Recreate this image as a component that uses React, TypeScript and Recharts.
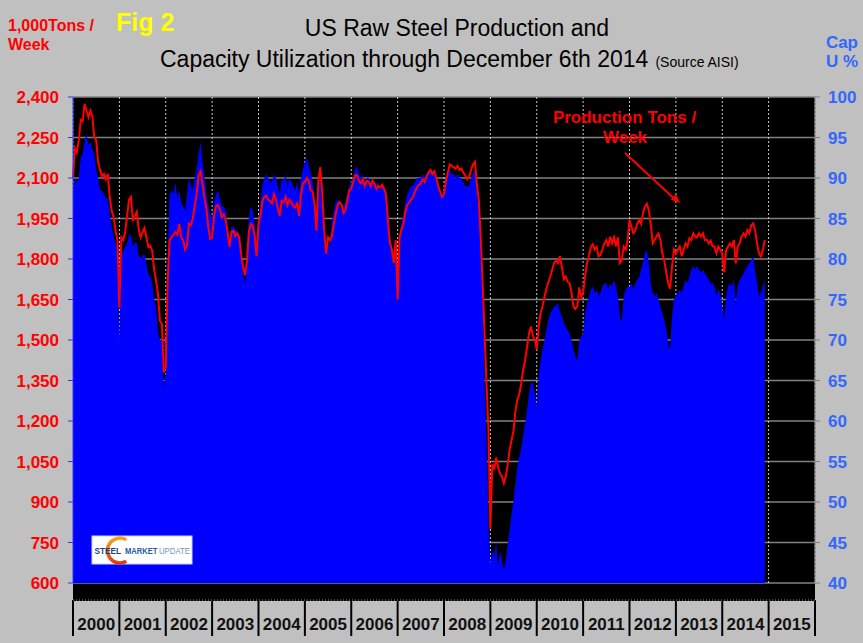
import { ComposedChart, Area, Line, XAxis, YAxis, CartesianGrid } from "recharts";

// Semi-monthly readings (24 per year), production in 1,000 tons/week and capacity utilization in %.
const YEARS = [2000, 2001, 2002, 2003, 2004, 2005, 2006, 2007, 2008, 2009, 2010, 2011, 2012, 2013, 2014];

const prod2000 = [2100, 2210, 2195, 2240, 2315, 2310, 2375, 2350, 2325, 2350, 2330, 2250, 2240, 2160, 2130, 2105, 2115, 2095, 2115, 2030, 1980, 1955, 1905, 1870];
const prod2001 = [1620, 1880, 1870, 1900, 1960, 2020, 2030, 1940, 1960, 1975, 1910, 1880, 1900, 1915, 1880, 1845, 1850, 1830, 1760, 1720, 1670, 1570, 1560, 1380];
const prod2002 = [1400, 1720, 1870, 1880, 1890, 1900, 1890, 1930, 1880, 1870, 1835, 1850, 1930, 1925, 1950, 1995, 2040, 2110, 2125, 2080, 2030, 1990, 1920, 1875];
const prod2003 = [1880, 1960, 1995, 2000, 1985, 1955, 1965, 1945, 1900, 1845, 1900, 1905, 1885, 1895, 1880, 1820, 1770, 1740, 1790, 1900, 1930, 1925, 1885, 1810];
const prod2004 = [1930, 1960, 2015, 2030, 2035, 2020, 2015, 2005, 2040, 2020, 1990, 1960, 2015, 2010, 2030, 2000, 2020, 2010, 1995, 1990, 2010, 1960, 2040, 2080];
const prod2005 = [2085, 2100, 2090, 2055, 2050, 2005, 1905, 2090, 2140, 2045, 1905, 1820, 1880, 1870, 1885, 1930, 1970, 2000, 2010, 2000, 1970, 1980, 2020, 2055];
const prod2006 = [2060, 2085, 2110, 2110, 2090, 2080, 2095, 2070, 2090, 2085, 2070, 2090, 2080, 2060, 2070, 2065, 2075, 2060, 2040, 1940, 1860, 1835, 1785, 1870];
const prod2007 = [1650, 1880, 1910, 1930, 1975, 2000, 2010, 2020, 2030, 2050, 2065, 2075, 2080, 2095, 2085, 2105, 2120, 2130, 2115, 2125, 2100, 2070, 2050, 2030];
const prod2008 = [2040, 2090, 2120, 2150, 2145, 2140, 2135, 2145, 2130, 2135, 2120, 2110, 2095, 2105, 2130, 2150, 2160, 2080, 2020, 1880, 1710, 1525, 1340, 1170];
const prod2009 = [800, 1040, 1020, 1065, 1030, 1005, 995, 970, 995, 1040, 1095, 1130, 1165, 1240, 1280, 1300, 1340, 1390, 1425, 1475, 1525, 1550, 1515, 1500];
const prod2010 = [1465, 1550, 1600, 1625, 1660, 1690, 1715, 1735, 1760, 1785, 1795, 1785, 1810, 1770, 1725, 1735, 1715, 1710, 1675, 1625, 1615, 1625, 1695, 1660];
const prod2011 = [1675, 1735, 1785, 1810, 1845, 1855, 1835, 1845, 1810, 1815, 1835, 1858, 1870, 1846, 1883, 1858, 1880, 1846, 1880, 1785, 1795, 1846, 1834, 1870];
const prod2012 = [1945, 1920, 1895, 1905, 1930, 1945, 1930, 1970, 1995, 2005, 1980, 1930, 1858, 1870, 1885, 1895, 1870, 1820, 1795, 1750, 1710, 1690, 1770, 1835];
const prod2013 = [1820, 1833, 1846, 1810, 1835, 1858, 1846, 1877, 1870, 1895, 1883, 1880, 1895, 1883, 1895, 1870, 1872, 1858, 1868, 1846, 1846, 1821, 1846, 1833];
const prod2014 = [1821, 1750, 1833, 1846, 1858, 1846, 1870, 1784, 1846, 1858, 1883, 1895, 1883, 1907, 1895, 1926, 1932, 1907, 1858, 1821, 1809, 1833, 1870];

const cap2000 = [88.5, 90, 89.5, 90, 92.5, 93, 94.5, 95.5, 94, 94.5, 93.5, 93, 91, 90, 88.5, 88.5, 88, 87.5, 87.5, 85.5, 84, 83, 82, 81];
const cap2001 = [70, 80.5, 81, 81.5, 82, 83, 83, 81.5, 82, 82, 80.5, 80, 80.5, 80.5, 79.5, 78, 78, 77, 75, 74, 71, 70, 70, 64];
const cap2002 = [66, 80, 88, 88.5, 88, 89.5, 87.5, 88.5, 87, 86.5, 86, 88, 90, 89, 88.5, 90, 91, 93, 94.5, 92, 90, 88, 86.5, 85.5];
const cap2003 = [85, 87, 88, 88.5, 87.5, 86.5, 86.5, 86, 84, 82, 84, 84, 83.5, 83.5, 83, 81, 78, 77, 80, 85, 86.5, 86, 84.5, 81];
const cap2004 = [85, 87, 89, 90, 90.5, 90, 89.5, 89.5, 90.5, 90, 89, 88, 90, 89.5, 90.5, 89, 90, 89.5, 89, 88.5, 89.5, 88, 90, 91];
const cap2005 = [92, 92.5, 91.5, 90.5, 89.5, 87.5, 85, 89, 90, 86.5, 82, 82, 81.5, 82, 84.5, 86, 87, 87.5, 86.5, 86, 86.5, 87, 88, 89];
const cap2006 = [89.5, 90, 91, 91.5, 90.5, 90, 90.5, 89.5, 90, 90, 89.5, 89.5, 89.5, 89, 89.5, 88.5, 89, 88.5, 88, 86, 83, 81.5, 80, 82];
const cap2007 = [75, 83, 84.5, 85.5, 87, 88, 88.5, 89, 89, 89.5, 90, 90, 90, 90.5, 90, 90.5, 91, 91, 90.5, 90.5, 90, 89, 88, 87.5];
const cap2008 = [88.5, 89.5, 90.5, 91, 90.5, 90.5, 90, 90.5, 90, 90, 89.5, 89, 89, 89, 90, 90.5, 91, 88.5, 86, 82, 75, 65, 57.5, 47];
const cap2009 = [42.4, 44.1, 43.3, 44.9, 42, 44, 42.8, 41.6, 42.8, 44.9, 46.5, 48.6, 50.2, 52.3, 54.4, 55.6, 56.8, 58.1, 59.7, 61.4, 63.4, 64.7, 64.7, 63.4];
const cap2010 = [61.8, 65.5, 67.5, 68.8, 70, 71.2, 72.5, 73.3, 73.7, 74.1, 74.3, 74.5, 73.5, 72.9, 72.1, 71.6, 71.2, 70.8, 70, 68.8, 68, 67.5, 70, 70.4];
const cap2011 = [70.8, 73.3, 74.5, 75.3, 76.2, 76.6, 75.8, 76.2, 75.4, 75.8, 76.6, 77, 77, 76.2, 77, 76.6, 77.4, 76.6, 75.4, 72.9, 72.1, 75.4, 76.2, 76.6];
const cap2012 = [76.6, 77, 76.2, 77, 77.4, 77.8, 78.7, 79.5, 80.7, 81.1, 79.5, 77, 75.8, 75.4, 75.8, 75, 74.1, 73.3, 72.5, 71.3, 69.6, 68.8, 72.9, 75];
const cap2013 = [75.4, 75.8, 76.2, 75.8, 76.6, 77.4, 77, 77.8, 78.7, 79.1, 78.7, 79.1, 78.7, 78.2, 78.7, 78.2, 77.8, 77.4, 77, 77, 76.6, 75.4, 76.2, 75.8];
const cap2014 = [74.1, 72.5, 75.4, 76.6, 77, 76.6, 77.4, 74.5, 76.6, 77.4, 77.8, 78.2, 78.7, 79.1, 79.5, 79.9, 80.3, 78.7, 77, 75.4, 75.8, 76.6, 77.4];

const PROD = [prod2000, prod2001, prod2002, prod2003, prod2004, prod2005, prod2006, prod2007, prod2008, prod2009, prod2010, prod2011, prod2012, prod2013, prod2014];
const CAP = [cap2000, cap2001, cap2002, cap2003, cap2004, cap2005, cap2006, cap2007, cap2008, cap2009, cap2010, cap2011, cap2012, cap2013, cap2014];

const YEAR_TICKS = [2000, 2001, 2002, 2003, 2004, 2005, 2006, 2007, 2008, 2009, 2010, 2011, 2012, 2013, 2014, 2015, 2016];
const TON_TICKS = [600, 750, 900, 1050, 1200, 1350, 1500, 1650, 1800, 1950, 2100, 2250, 2400];
const CAP_TICKS = [40, 45, 50, 55, 60, 65, 70, 75, 80, 85, 90, 95, 100];

const data = YEARS.flatMap((yr, k) =>
  PROD[k].map((p, i) => ({ t: yr + i / 24, prod: p, cap: CAP[k][i] }))
);

const FONT = '"Liberation Sans", Arial, Helvetica, sans-serif';

function YearTick({ x, y, payload }: any) {
  const yr = payload.value;
  return (
    <g>
      <line x1={x} x2={x} y1={y + 17} y2={y + 53} stroke="#000" strokeWidth={2} />
      {yr < 2016 && (
        <text x={x + 23.2} y={y + 47} textAnchor="middle" fontSize={17} fontWeight="bold" fill="#111">
          {yr}
        </text>
      )}
    </g>
  );
}

export default function App() {
  return (
    <div style={{ position: "absolute", left: 0, top: 0, width: 863, height: 643, background: "#C0C0C0", fontFamily: FONT }}>
      <div style={{ position: "absolute", left: 73, top: 97, width: 742, height: 504, background: "#000" }} />
      <div style={{ position: "absolute", left: 0, top: 0 }}>
        <ComposedChart width={863} height={643} data={data} margin={{ top: 97, right: 3, left: 8, bottom: 7 }} style={{ fontFamily: FONT }}>
          <CartesianGrid yAxisId="left" vertical={false} stroke="#808080" strokeWidth={1.5} />
          <CartesianGrid yAxisId="left" horizontal={false} stroke="#c8c8c8" strokeDasharray="2 2" />
          <XAxis
            type="number"
            dataKey="t"
            domain={[2000, 2016]}
            ticks={YEAR_TICKS}
            interval={0}
            height={53}
            axisLine={false}
            tickLine={false}
            tickSize={0}
            tickMargin={0}
            tick={<YearTick />}
          />
          <YAxis
            yAxisId="left"
            width={65}
            domain={[600, 2400]}
            ticks={TON_TICKS}
            interval={0}
            tickSize={5}
            tickMargin={9}
            axisLine={{ stroke: "#3333ff" }}
            tickLine={{ stroke: "#3333ff" }}
            tick={{ fill: "#ff0000", fontSize: 17, fontWeight: "bold" }}
            tickFormatter={(v) => Number(v).toLocaleString("en-US")}
          />
          <YAxis
            yAxisId="right"
            orientation="right"
            width={45}
            domain={[40, 100]}
            ticks={CAP_TICKS}
            interval={0}
            tickSize={5}
            tickMargin={8}
            axisLine={{ stroke: "#808080" }}
            tickLine={{ stroke: "#808080" }}
            tick={{ fill: "#3366ff", fontSize: 17, fontWeight: "bold" }}
          />
          <Area
            yAxisId="right"
            dataKey="cap"
            type="linear"
            baseValue={40}
            fill="#0000ff"
            fillOpacity={1}
            stroke="none"
            isAnimationActive={false}
          />
          <Line
            yAxisId="left"
            dataKey="prod"
            type="linear"
            stroke="#ff0000"
            strokeWidth={2}
            dot={false}
            isAnimationActive={false}
          />
        </ComposedChart>
      </div>
      <svg width={863} height={643} style={{ position: "absolute", left: 0, top: 0, pointerEvents: "none", fontFamily: FONT }}>
        <defs>
          <linearGradient id="smuArc" x1="0" y1="0" x2="0" y2="1">
            <stop offset="0" stopColor="#f7a21b" />
            <stop offset="1" stopColor="#e2381a" />
          </linearGradient>
        </defs>
        <line x1={73} x2={815} y1={600} y2={600} stroke="#9a9a9a" strokeDasharray="1 2" />

        <text x={8} y={31} fontSize={16} fontWeight="bold" fill="#ff0000">1,000Tons /</text>
        <text x={8} y={50} fontSize={16} fontWeight="bold" fill="#ff0000">Week</text>
        <text x={116} y={31} fontSize={25} fontWeight="bold" fill="#ffff00">Fig 2</text>
        <text x={457} y={35.5} fontSize={23} textAnchor="middle" fill="#000">US Raw Steel Production and</text>
        <text x={160} y={66.5} fontSize={23} fill="#000">
          Capacity Utilization through December 6th 2014
          <tspan fontSize={14} dx={7}>(Source AISI)</tspan>
        </text>
        <text x={858} y={47.5} fontSize={17} fontWeight="bold" fill="#3366ff" textAnchor="end">Cap</text>
        <text x={858} y={66.5} fontSize={17} fontWeight="bold" fill="#3366ff" textAnchor="end">U %</text>

        <text x={624.5} y={123} fontSize={17} fontWeight="bold" fill="#ff0000" textAnchor="middle">Production Tons /</text>
        <text x={625} y={143} fontSize={17} fontWeight="bold" fill="#ff0000" textAnchor="middle">Week</text>
        <line x1={625} y1={153} x2={674} y2={198.5} stroke="#ff0000" strokeWidth={2} />
        <polygon points="680,203 670.7,199.8 676.1,194" fill="#ff0000" />

        <rect x={92} y={536} width={100} height={28} fill="#ffffff" stroke="#d0d0e8" strokeWidth={1} />
        <path d="M126.3,539.7 A12.5,12.5 0 1,0 126.3,561.3" fill="none" stroke="url(#smuArc)" strokeWidth={3.5} />
        <text x={94.5} y={553.5} fontSize={8.5} fontWeight="bold" fill="#1c3f7a" textLength={26.5} lengthAdjust="spacingAndGlyphs">STEEL</text>
        <text x={125} y={553.5} fontSize={8.5} fontWeight="bold" fill="#2a5aa0" textLength={32.5} lengthAdjust="spacingAndGlyphs">MARKET</text>
        <text x={159} y={553.5} fontSize={8.5} fill="#7a96b8" textLength={31} lengthAdjust="spacingAndGlyphs">UPDATE</text>
      </svg>
    </div>
  );
}
